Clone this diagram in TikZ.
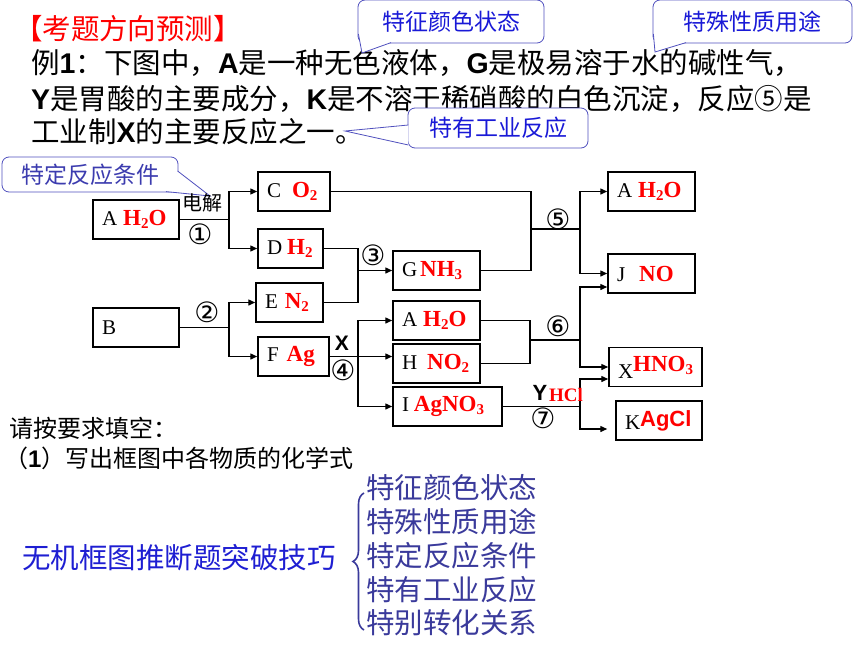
\documentclass[tikz,border=0pt]{standalone}
\usepackage{fontspec}
\setmainfont{Liberation Serif}
\newfontfamily\cjk{Noto Sans CJK SC}
\newfontfamily\lsans{Liberation Sans}
\newfontfamily\circnum{DejaVu Sans}
\usetikzlibrary{arrows.meta,decorations.pathreplacing}
\definecolor{bubbletext}{RGB}{25,25,215}
\definecolor{bubbleline}{RGB}{80,80,190}
\definecolor{bubbledark}{RGB}{60,60,175}
\definecolor{tipsblue}{RGB}{30,30,210}
\definecolor{tipsviolet}{RGB}{58,58,155}
\newcommand\fm[1]{{\color{red}\bfseries\fontsize{23}{23}\selectfont #1}}
\newcommand\sub[1]{\raisebox{-0.3ex}{\fontsize{15}{15}\selectfont #1}}
\newcommand\bl[1]{{\lsans\bfseries #1}}

\begin{document}
\begin{tikzpicture}[x=1pt,y=-1pt]
	\tikzstyle{every node}+=[inner sep=0pt]
	\tikzstyle{box}=[draw,line width=1.5pt,minimum height=39pt,inner xsep=9pt,align=left,font=\fontsize{21}{21}\selectfont]
	\tikzstyle{link}=[line width=1.4pt]
	\tikzstyle{arr}=[link,-{Triangle[length=7pt,width=6pt]}]
	\tikzstyle{num}=[font=\circnum\fontsize{28}{28}\selectfont]
	\tikzstyle{bigtext}=[anchor=west,font=\cjk\fontsize{28.5}{28.5}\selectfont]
	\tikzstyle{asktext}=[anchor=west,font=\cjk\fontsize{24}{24}\selectfont]
	\tikzstyle{bubble}=[draw=bubbleline,line width=0.8pt,fill=white,rounded corners=7pt,text=bubbletext,font=\cjk\fontsize{23}{23}\selectfont]
	\tikzstyle{pointer}=[draw=bubbleline,line width=0.8pt]
	\tikzstyle{listitem}=[anchor=west,text=tipsviolet,font=\cjk\fontsize{28.5}{28.5}\selectfont]
	\useasboundingbox (0,0) rectangle (860,645);
	\node[font=\cjk\fontsize{28.5}{28.5}\selectfont,text=red] (title) at (128,29) {【考题方向预测】};
	\node[bigtext] (l1) at (31,63) {例\bl{1}：下图中，\bl{A}是一种无色液体，\bl{G}是极易溶于水的碱性气，};
	\node[bigtext] (l2) at (31,99) {\bl{Y}是胃酸的主要成分，\bl{K}是不溶于稀硝酸的白色沉淀，反应⑤是};
	\node[bigtext] (l3) at (31,132) {工业制\bl{X}的主要反应之一。};
	\node[bubble,minimum width=186pt,minimum height=43pt] (tz) at (451,21.5) {特征颜色状态};
	\fill[white] (358.4,34) -- (362,53) -- (391,42.6) -- cycle;
	\draw[pointer] (358.4,34) -- (362,53) -- (391,42.6);
	\node[bubble,minimum width=199pt,minimum height=43pt] (ts) at (752.5,21.5) {特殊性质用途};
	\fill[white] (653.4,34) -- (655,52) -- (686,42.6) -- cycle;
	\draw[pointer] (653.4,34) -- (655,52) -- (686,42.6);
	\node[bubble,minimum width=180pt,minimum height=40pt] (ty) at (498,128) {特有工业反应};
	\fill[white] (408.4,125) -- (345,131) -- (408.4,145) -- cycle;
	\draw[pointer] (408.4,125) -- (345,131) -- (408.4,145);
	\node[bubble,minimum width=176pt,minimum height=35pt,text=bubbledark] (td) at (90,174.5) {特定反应条件};
	\fill[white] (177.6,171) -- (210,196) -- (166,191.6) -- cycle;
	\draw[pointer] (177.6,171) -- (210,196) -- (166,191.6);
	\node[box,text width=68pt] (a1) at (136,219.5) {\mbox{A\hspace{6pt}\fm{H\sub2O}}};
	\node[box,text width=68pt] (b) at (136,327.5) {\mbox{B}};
	\node[box,text width=54pt] (c) at (294,191.5) {\mbox{C\hspace{11pt}\fm{O\sub2}}};
	\node[box,text width=47pt] (d) at (290.5,248.5) {\mbox{D\hspace{5pt}\fm{H\sub2}}};
	\node[box,text width=49pt] (e) at (289.5,302.5) {\mbox{E\hspace{7pt}\fm{N\sub2}}};
	\node[box,text width=53pt] (f) at (293.5,356.5) {\mbox{F\hspace{8pt}\fm{Ag}}};
	\node[box,text width=69pt] (g) at (436.5,270.5) {\mbox{G\hspace{3pt}\fm{NH\sub3}}};
	\node[box,text width=69pt] (a3) at (436.5,320.5) {\mbox{A\hspace{6pt}\fm{H\sub2O}}};
	\node[box,text width=69pt] (h) at (436.5,363.5) {\mbox{H\hspace{10pt}\fm{NO\sub2}}};
	\node[box,text width=91pt] (i) at (447.5,406.5) {\mbox{I\hspace{5pt}\fm{AgNO\sub3}}};
	\node[box,text width=69pt] (a2) at (651.5,191.5) {\mbox{A\hspace{6pt}\fm{H\sub2O}}};
	\node[box,text width=69pt] (j) at (651.5,273.5) {\mbox{J\hspace{14pt}\fm{NO}}};
	\node[box,text width=75pt] (x) at (655.5,367) {\mbox{X\raisebox{7pt}{\fm{HNO\sub3}}}};
	\node[box,text width=68pt] (k) at (659,420.5) {\mbox{K\raisebox{3pt}{{\color{red}\lsans\bfseries\fontsize{22}{22}\selectfont AgCl}}}};
	\coordinate (j1) at (229,219.5);
	\draw[link] (a1) -- (j1);
	\draw[arr] (j1) |- (c);
	\draw[arr] (j1) |- (d);
	\coordinate (j2) at (229,327.5);
	\draw[link] (b) -- (j2);
	\draw[arr] (j2) |- (e);
	\draw[arr] (j2) |- (f);
	\coordinate (j3) at (358,270.5);
	\draw[link] (d) -| (j3);
	\draw[link] (e) -| (j3);
	\draw[arr] (j3) -- (g);
	\coordinate (j5) at (531,229);
	\coordinate (k5) at (580,229);
	\draw[link] (c) -| (j5);
	\draw[link] (g) -| (j5);
	\draw[link] (j5) -- (k5);
	\draw[arr] (k5) |- (a2);
	\draw[arr] (k5) |- (j);
	\coordinate (j4) at (358,356.5);
	\draw[link] (f) -- (j4);
	\draw[arr] (j4) |- (a3);
	\draw[arr] (j4) -- (j4 -| h.west);
	\draw[arr] (j4) |- (i);
	\coordinate (j6) at (530,340);
	\coordinate (k6) at (580,340);
	\draw[link] (a3) -| (j6);
	\draw[link] (h) -| (j6);
	\draw[link] (j6) -- (k6);
	\draw[arr] (k6) |- ([yshift=-13.5pt]j.west);
	\draw[arr] (k6) |- (x);
	\coordinate (k7) at (580,406.5);
	\draw[link] (i) -- (k7);
	\draw[arr] (k7) |- ([yshift=-12pt]x.west);
	\draw[arr] (k7) |- ([xshift=-8pt,yshift=-8.5pt]k.west);
	\node[font=\cjk\fontsize{20}{20}\selectfont] (dj) at (202,203) {电解};
	\node[num] (n1) at (200,234) {①};
	\node[num] (n2) at (207,312) {②};
	\node[num] (n3) at (373,255) {③};
	\node[num] (n4) at (343,370) {④};
	\node[num] (n5) at (558,219) {⑤};
	\node[num] (n6) at (558,326) {⑥};
	\node[num] (n7) at (543,418) {⑦};
	\node[font=\lsans\bfseries\fontsize{21}{21}\selectfont] (xl) at (342,343) {X};
	\node[font=\lsans\bfseries\fontsize{22}{22}\selectfont] (yl) at (540,393) {Y};
	\node[anchor=west] (hcl) at (549,395) {{\color{red}\bfseries\fontsize{19}{19}\selectfont HCl}};
	\node[asktext] (ask) at (9,428) {请按要求填空：};
	\node[asktext] (q1) at (4,458) {（\bl{1}）写出框图中各物质的化学式};
	\node[bigtext,text=tipsblue] (tips) at (22,558) {无机框图推断题突破技巧};
	\draw[tipsviolet,line width=1.6pt,decorate,decoration={brace,amplitude=11pt}] (364,630) -- (364,493);
	\foreach \t [count=\n] in {特征颜色状态,特殊性质用途,特定反应条件,特有工业反应,特别转化关系}
		\node[listitem] (item\n) at (366,454+33.8*\n) {\t};
\end{tikzpicture}
\end{document}
